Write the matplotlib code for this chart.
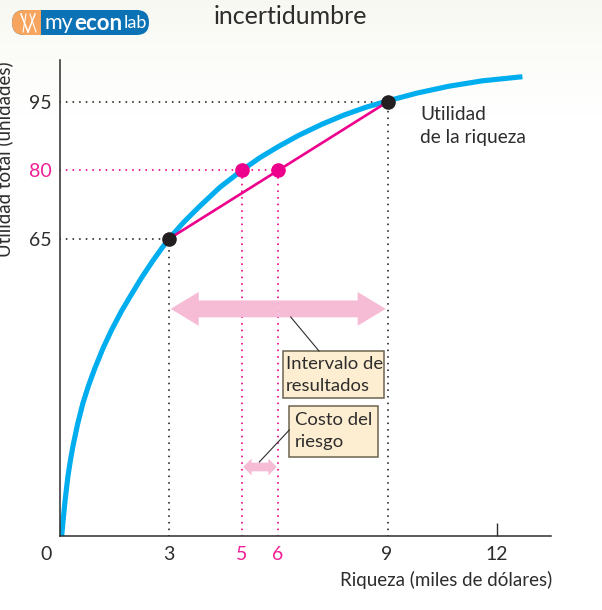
"""Utilidad de la riqueza: chart with the cost of risk."""

import matplotlib
matplotlib.use("Agg")
import matplotlib.pyplot as plt
import numpy as np
from matplotlib.patches import FancyBboxPatch, Rectangle
from matplotlib.transforms import ScaledTranslation

# curve
wealth = [0.06, 0.10, 0.15, 0.23, 0.30, 0.37, 0.50, 0.64, 0.80, 0.97, 1.20, 1.43, 1.70, 1.93, 2.25, 2.55,
          2.80, 3.00, 3.40, 3.84, 4.40, 5.00, 5.50, 6.00, 6.57, 7.20, 7.80, 8.40, 9.00, 9.80, 10.67, 11.60, 12.70]
utility = [0, 3.5, 7.5, 13.0, 16.6, 19.7, 24.6, 29.0, 33.0, 36.7, 41.2, 45.1, 49.2, 52.3, 56.5, 60.1,
           62.9, 65.0, 68.6, 72.1, 76.3, 80.0, 82.8, 85.2, 87.7, 90.1, 92.1, 93.8, 95.2, 96.9, 98.4, 99.6, 100.5]

x_ticks = [3, 5, 6, 9, 12]
y_ticks = [65, 80, 95]
chord_x = [3, 9]
chord_y = [65, 95]
black_x = [3, 9]
black_y = [65, 95]
pink_x = [5, 6]
pink_y = [80, 80]

BLUE = "#00aeef"
MAGENTA = "#ec008c"
PINK_TEXT = "#f01f96"
ARROW = "#f6bcd6"
DARK = "#2e2c2c"
FONT = "Lato"
DOTS = (0, (0.01, 3.4))

plt.rcParams["font.family"] = FONT

fig = plt.figure(figsize=(6.02, 6.10), dpi=100)

# background and logo work in picture pixels
bg = fig.add_axes([0, 0, 1, 1], zorder=0)
shade = np.clip((115 - np.arange(610)) / 115, 0, 1)[:, None, None]
bg.imshow(1 - shade * np.array([0.025, 0.025, 0.05]), extent=(0, 602, 610, 0), aspect="auto", zorder=0)
bg.set_xlim(0, 602)
bg.set_ylim(610, 0)
bg.axis("off")

pill = dict(boxstyle="round,pad=0,rounding_size=12.4", linewidth=0)
bg.add_patch(FancyBboxPatch((12, 10), 137, 25, facecolor="#0b72b5", **pill))
orange = FancyBboxPatch((12, 10), 137, 25, facecolor="#f6a45e", **pill)
bg.add_patch(orange)
orange.set_clip_path(Rectangle((12, 10), 28.5, 25, transform=bg.transData))
bg.plot([21, 28], [14, 32], color="white", lw=1.1)
bg.plot([26, 23], [14, 32], color="white", lw=0.8)
bg.plot([28, 35], [32, 14], color="white", lw=1.1)
bg.plot([30, 36], [14, 32], color="white", lw=0.8)
bg.text(45, 23, "my", color="white", fontsize=15.5, va="center", ha="left")
bg.text(74, 23, "econ", color="white", fontsize=16, va="center", ha="left", weight="bold")
bg.text(124, 23, "lab", color="white", fontsize=13, va="center", ha="left")
bg.text(214, 16, "incertidumbre", color=DARK, fontsize=18, va="center", ha="left")

# chart
ax = fig.add_axes([59.5 / 602, 74 / 610, 491.5 / 602, 476 / 610], zorder=1)
ax.patch.set_visible(False)
ax.set_xlim(0, 491.5 / 36.45)
ax.set_ylim(0, 476 / 4.57)
for side in ("top", "right"):
    ax.spines[side].set_visible(False)
for side in ("left", "bottom"):
    ax.spines[side].set_linewidth(1.1)
    ax.spines[side].set_color(DARK)
    ax.spines[side].set_zorder(6)

dot_style = dict(lw=1.4, linestyle=DOTS, dash_capstyle="round")
ax.plot([0, 3], [65, 65], color=DARK, **dot_style)
ax.plot([0, 9], [95, 95], color=DARK, **dot_style)
ax.plot([0, 6], [80, 80], color=MAGENTA, **dot_style)
ax.plot([3, 3], [0, 65], color=DARK, **dot_style)
ax.plot([9, 9], [0, 95], color=DARK, **dot_style)
ax.plot([5, 5], [0, 80], color=MAGENTA, **dot_style)
ax.plot([6, 6], [0, 80], color=MAGENTA, **dot_style)

ax.plot(wealth, utility, color=BLUE, lw=3.7, zorder=3, solid_capstyle="butt", solid_joinstyle="round")
ax.plot(chord_x, chord_y, color=MAGENTA, lw=1.9, zorder=4)
ax.plot(black_x, black_y, "o", color="#231f20", ms=10.5, mew=0, zorder=5)
ax.plot(pink_x, pink_y, "o", color=MAGENTA, ms=10.5, mew=0, zorder=5)

# range and cost of risk arrows
big = dict(width=3.7, head_width=7.4, head_length=0.77, length_includes_head=True,
           color=ARROW, linewidth=0, zorder=2)
ax.arrow(6, 49.7, 2.95, 0, **big)
ax.arrow(6, 49.7, -2.95, 0, **big)
small = dict(width=1.9, head_width=3.7, head_length=0.23, length_includes_head=True,
             color=ARROW, linewidth=0, zorder=2)
ax.arrow(5.5, 15.1, 0.46, 0, **small)
ax.arrow(5.5, 15.1, -0.46, 0, **small)

ax.set_xticks(x_ticks, [str(v) for v in x_ticks], fontsize=14, color=DARK)
ax.set_yticks(y_ticks, [str(v) for v in y_ticks], fontsize=14, color=DARK)
ax.tick_params(length=0, pad=7)
ax.tick_params(axis="y", pad=5.5)
for label in ax.get_xticklabels()[1:3]:
    label.set_color(PINK_TEXT)
ax.get_yticklabels()[1].set_color(PINK_TEXT)
nudge = ScaledTranslation(-0.5 / 100, 0, fig.dpi_scale_trans)
for label in ax.get_xticklabels():
    label.set_transform(label.get_transform() + nudge)
# only the 12 has a visible tick
last_tick = ax.xaxis.get_major_ticks()[-1]
last_tick.tick1line.set_markersize(9.4)
last_tick.tick1line.set_markeredgewidth(1.0)
last_tick.tick1line.set_markeredgecolor(DARK)
last_tick.tick1line.set_marker(2)

# annotations on top, in picture pixels
top = fig.add_axes([0, 0, 1, 1], zorder=2)
top.set_xlim(0, 602)
top.set_ylim(610, 0)
top.axis("off")

top.text(46, 555, "0", color=DARK, fontsize=14, ha="center", va="center")
top.text(552, 580, "Riqueza (miles de dólares)", color=DARK, fontsize=13.5, ha="right", va="center")
top.text(4, 159, "Utilidad total (unidades)", color=DARK, fontsize=13.5, rotation=90, ha="center", va="center")
top.text(420, 114, "Utilidad", color=DARK, fontsize=13.8, ha="left", va="center")
top.text(420, 138, "de la riqueza", color=DARK, fontsize=13.8, ha="left", va="center")

top.plot([290.7, 319], [317, 351], color=DARK, lw=0.8)
top.plot([289.3, 259.3], [430, 462], color=DARK, lw=0.8)
box_style = dict(facecolor="#fdeed2", edgecolor="#6b6350", linewidth=1.1)
top.add_patch(Rectangle((282.7, 350.7), 101.6, 47.6, **box_style))
top.add_patch(Rectangle((289.3, 405.7), 89, 51, **box_style))
top.text(286, 364, "Intervalo de", color=DARK, fontsize=13.3, ha="left", va="center")
top.text(286, 386, "resultados", color=DARK, fontsize=13.3, ha="left", va="center")
top.text(295, 420, "Costo del", color=DARK, fontsize=13.3, ha="left", va="center")
top.text(295, 442, "riesgo", color=DARK, fontsize=13.3, ha="left", va="center")

fig.savefig("out.png", dpi=100)
